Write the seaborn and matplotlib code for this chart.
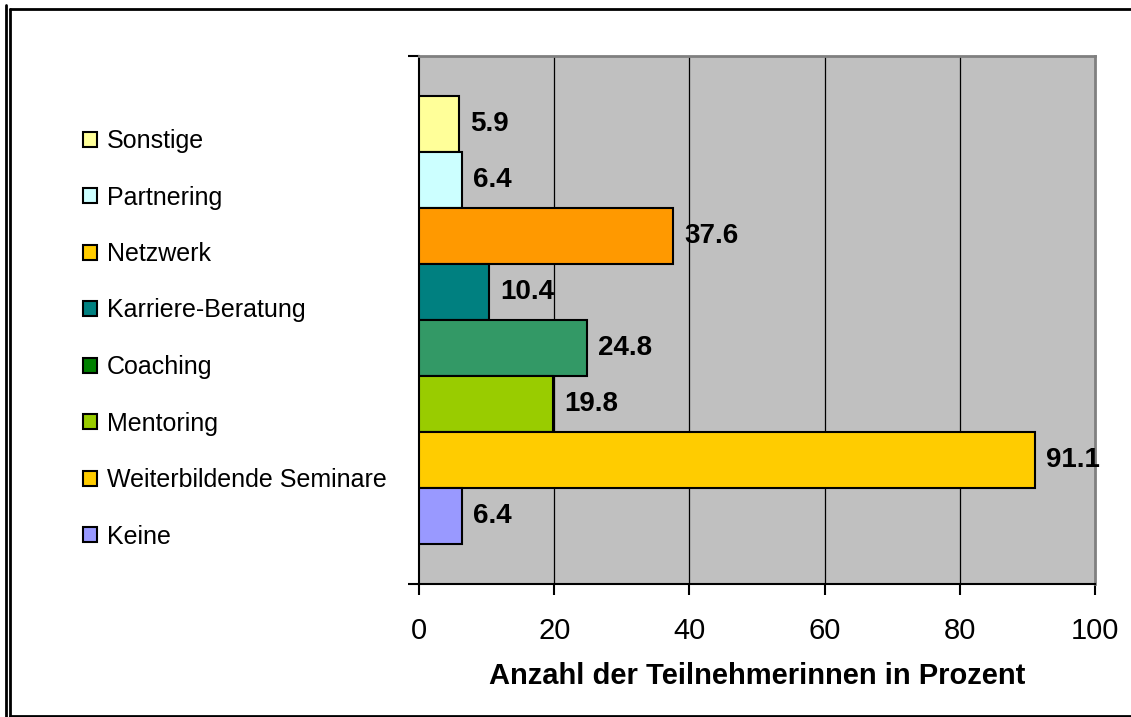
import matplotlib
matplotlib.use("Agg")
import matplotlib.pyplot as plt
from matplotlib.patches import Patch
from matplotlib.lines import Line2D
import seaborn as sns
import pandas as pd

# Daten (von oben nach unten)
kategorien = ["Sonstige", "Partnering", "Netzwerk", "Karriere-Beratung",
              "Coaching", "Mentoring", "Weiterbildende Seminare", "Keine"]
prozent = [5.9, 6.4, 37.6, 10.4, 24.8, 19.8, 91.1, 6.4]
balken_farben = ["#FFFF99", "#CCFFFF", "#FF9900", "#008080",
                 "#339966", "#99CC00", "#FFCC00", "#9999FF"]
legende_farben = ["#FFFF99", "#CCFFFF", "#FFCC00", "#008080",
                  "#008000", "#99CC00", "#FFCC00", "#9999FF"]
x_ticks = [0, 20, 40, 60, 80, 100]

df = pd.DataFrame({"kategorie": kategorien, "prozent": prozent})

sns.set_theme(style="white")
plt.rcParams["font.family"] = ["Liberation Sans", "DejaVu Sans"]
plt.rcParams["text.color"] = "black"
plt.rcParams["axes.labelcolor"] = "black"
plt.rcParams["xtick.color"] = "black"
plt.rcParams["ytick.color"] = "black"

fig = plt.figure(figsize=(11.31, 7.17), dpi=100)
ax = fig.add_axes([419 / 1131, 1 - 584 / 717, 676 / 1131, 528 / 717])
ax.set_facecolor("#C0C0C0")

sns.barplot(data=df, x="prozent", y="kategorie", hue="kategorie",
            palette=dict(zip(kategorien, balken_farben)), order=kategorien,
            saturation=1, width=1.0, edgecolor="black", linewidth=1.5,
            legend=False, zorder=3, ax=ax)

for cont in ax.containers:
    ax.bar_label(cont, fmt="%.1f", padding=8, fontsize=20, fontweight="bold",
                 color="black", zorder=4)

# Abstand oben/unten wie im Original (eine Kategorie, acht Reihen)
rand = 40 / 56
ax.set_ylim(7.5 + rand, -0.5 - rand)
ax.set_yticks([7.5 + rand, -0.5 - rand])
ax.set_yticklabels(["", ""])
ax.set_ylabel("")

ax.set_xlim(0, 100)
ax.set_xticks(x_ticks)
ax.set_xticklabels([str(t) for t in x_ticks], fontsize=21)
ax.set_xlabel("Anzahl der Teilnehmerinnen in Prozent", fontsize=21,
              fontweight="bold", labelpad=12)
ax.tick_params(axis="both", direction="out", length=8, width=1.5,
               color="black", bottom=True, left=True, pad=16)
ax.tick_params(axis="y", pad=0)

for t in x_ticks[1:-1]:
    ax.axvline(t, color="black", linewidth=0.9, zorder=1)

for s in ["left", "bottom"]:
    ax.spines[s].set_color("black")
    ax.spines[s].set_linewidth(1.5)
for s in ["top", "right"]:
    ax.spines[s].set_color("#808080")
    ax.spines[s].set_linewidth(2)

handles = [Patch(facecolor=c, edgecolor="black", linewidth=1.5)
           for c in legende_farben]
fig.legend(handles, kategorien, loc="upper left",
           bbox_to_anchor=(83 / 1131, 1 - 129 / 717), frameon=False,
           fontsize=18, handlelength=0.55, handleheight=0.55,
           handletextpad=0.4, labelspacing=1.3, borderpad=0,
           borderaxespad=0)

# Rahmen um die Grafik
fig.add_artist(Line2D([10 / 1131, 1], [1 - 9 / 717, 1 - 9 / 717],
                      transform=fig.transFigure, color="black", linewidth=2))
fig.add_artist(Line2D([10 / 1131, 1], [1 - 716 / 717, 1 - 716 / 717],
                      transform=fig.transFigure, color="black", linewidth=2))
fig.add_artist(Line2D([10 / 1131, 10 / 1131], [1 - 9 / 717, 1 - 716 / 717],
                      transform=fig.transFigure, color="black", linewidth=2))
fig.add_artist(Line2D([6 / 1131, 6 / 1131], [1 - 5 / 717, 0],
                      transform=fig.transFigure, color="black", linewidth=2))

fig.savefig("out.png", dpi=100)
